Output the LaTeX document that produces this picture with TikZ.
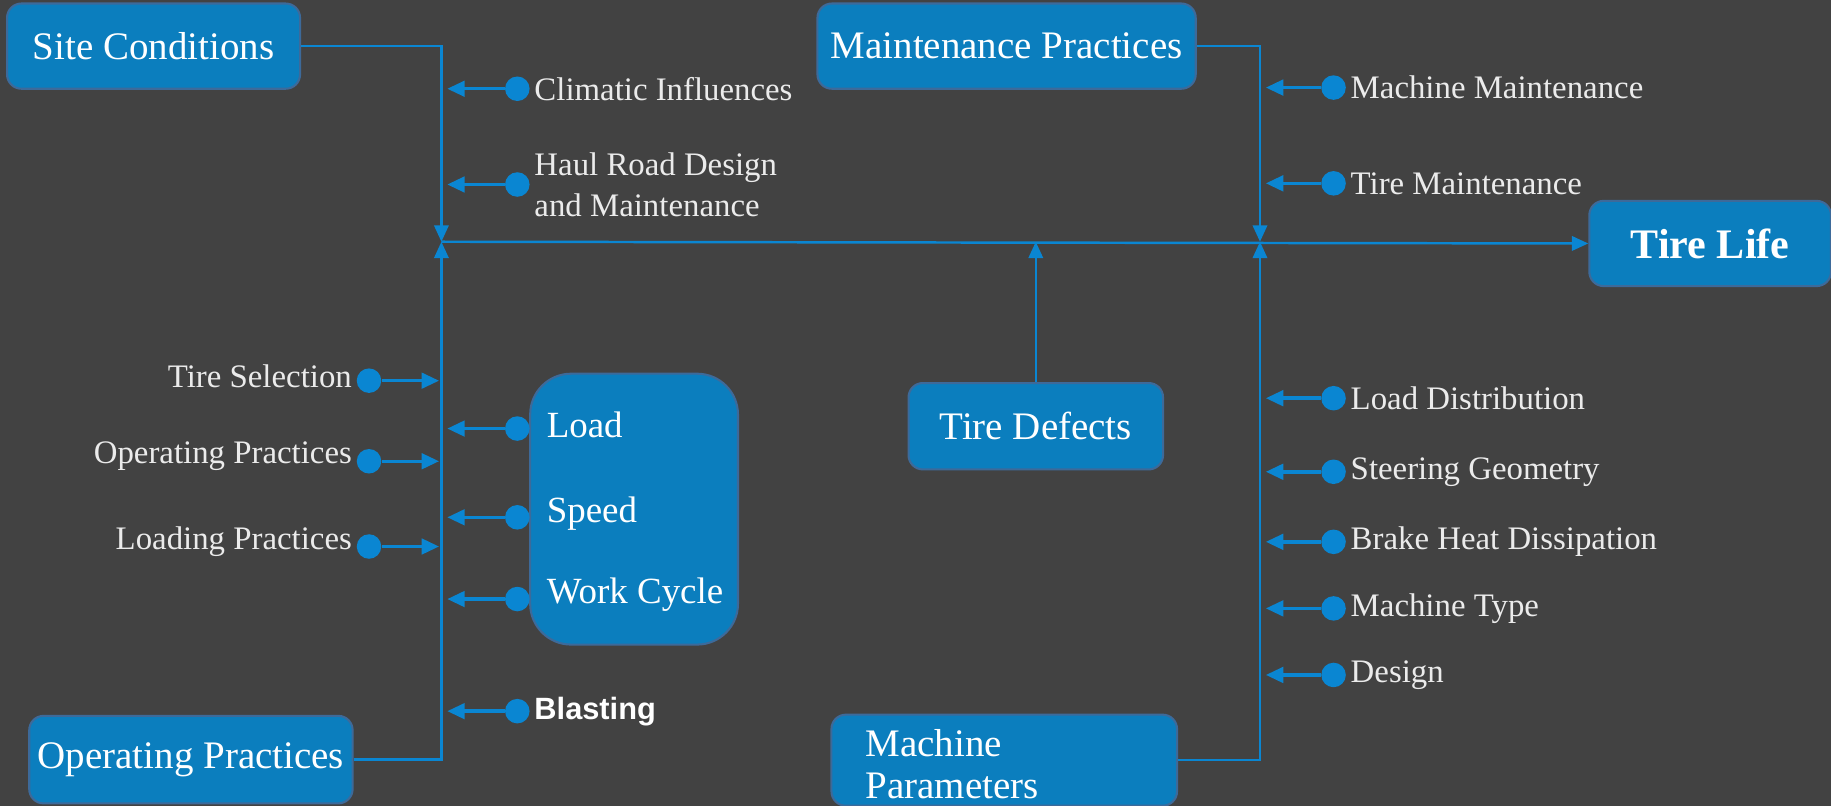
\documentclass[tikz,border=0pt]{standalone}
\usepackage{fontspec}
\setmainfont{Liberation Serif}
\newfontfamily\blastfont{Liberation Sans}
\usetikzlibrary{arrows.meta}
\definecolor{bggray}{HTML}{424242}
\definecolor{boxblue}{HTML}{0B7EBE}
\definecolor{boxedge}{HTML}{3D6A9A}
\definecolor{linkblue}{HTML}{0A86D2}
\begin{document}
\begin{tikzpicture}[x=0.02cm,y=-0.02cm,
  box/.style={draw=boxedge,line width=1pt,fill=boxblue,rounded corners=7pt,text=white,font=\fontsize{19}{22}\selectfont,inner sep=0pt},
  side/.style={text=white!92!black,font=\fontsize{16}{20}\selectfont,inner sep=2pt},
  dot/.style={circle,fill=linkblue,minimum size=0.42cm,inner sep=0pt},
  link/.style={draw=linkblue,line width=1.2pt,-{Triangle[length=8pt,width=7pt]}},
  feed/.style={draw=linkblue,line width=1.7pt,-{Triangle[length=8.5pt,width=7.5pt]}}]
\fill[bggray] (0,0) rectangle (1568,690);
\useasboundingbox (0,0) rectangle (1568,690);
\node[box,minimum width=5.02cm,minimum height=1.46cm] (site) at (131.5,39.5) {Site Conditions};
\node[box,minimum width=6.48cm,minimum height=1.46cm] (maint) at (862,39.5) {Maintenance Practices};
\node[box,minimum width=4.14cm,minimum height=1.46cm,font=\fontsize{20.5}{24}\selectfont\bfseries] (life) at (1464.5,208.5) {Tire Life};
\node[box,minimum width=4.36cm,minimum height=1.48cm] (defects) at (887,365) {Tire Defects};
\node[box,minimum width=5.54cm,minimum height=1.5cm] (oper) at (163.5,650.5) {Operating Practices};
\node[box,minimum width=5.92cm,minimum height=1.56cm] (machine) at (860,651) {};
\node[text=white,font=\fontsize{19}{20.5}\selectfont,align=left,anchor=north west,inner sep=0pt] (machine-t) at (741,624) {Machine\\Parameters};
\node[box,rounded corners=0.7cm,minimum width=3.56cm,minimum height=4.64cm] (cycle) at (543,436) {};
\coordinate (jleft) at (378,207);
\coordinate (jmid) at (887,207);
\coordinate (jright) at (1079,207);
\draw[link] (site.east) -| (jleft);
\draw[link] (oper.east) -| (jleft);
\draw[link] (maint.east) -| (jright);
\draw[link] (machine.east) -| (jright);
\draw[link] (defects.north) -- (jmid);
\draw[link] (jleft) -- (life.west);
\node[dot] (climatic) at (443,76) {};
\node[dot] (haul) at (443,158) {};
\node[dot] (load) at (443,367) {};
\node[dot] (speed) at (443,443) {};
\node[dot] (work) at (443,513) {};
\node[dot] (blast) at (443,609) {};
\node[dot] (tiresel) at (316,326) {};
\node[dot] (operp) at (316,395) {};
\node[dot] (loadp) at (316,468) {};
\node[dot] (machm) at (1142,75) {};
\node[dot] (tirem) at (1142,157) {};
\node[dot] (loaddist) at (1142,341) {};
\node[dot] (steer) at (1142,404) {};
\node[dot] (brake) at (1142,464) {};
\node[dot] (mtype) at (1142,521) {};
\node[dot] (design) at (1142,578) {};
\coordinate (climatic-end) at (383,76);
\coordinate (haul-end) at (383,158);
\coordinate (load-end) at (383,367);
\coordinate (speed-end) at (383,443);
\coordinate (work-end) at (383,513);
\coordinate (blast-end) at (383,609);
\coordinate (tiresel-end) at (376,326);
\coordinate (operp-end) at (376,395);
\coordinate (loadp-end) at (376,468);
\coordinate (machm-end) at (1084,75);
\coordinate (tirem-end) at (1084,157);
\coordinate (loaddist-end) at (1084,341);
\coordinate (steer-end) at (1084,404);
\coordinate (brake-end) at (1084,464);
\coordinate (mtype-end) at (1084,521);
\coordinate (design-end) at (1084,578);
\draw[feed] (climatic) -- (climatic-end);
\draw[feed] (haul) -- (haul-end);
\draw[feed] (load) -- (load-end);
\draw[feed] (speed) -- (speed-end);
\draw[feed] (work) -- (work-end);
\draw[feed] (blast) -- (blast-end);
\draw[feed] (tiresel) -- (tiresel-end);
\draw[feed] (operp) -- (operp-end);
\draw[feed] (loadp) -- (loadp-end);
\draw[feed] (machm) -- (machm-end);
\draw[feed] (tirem) -- (tirem-end);
\draw[feed] (loaddist) -- (loaddist-end);
\draw[feed] (steer) -- (steer-end);
\draw[feed] (brake) -- (brake-end);
\draw[feed] (mtype) -- (mtype-end);
\draw[feed] (design) -- (design-end);
\node[side,anchor=west] (climatic-t) at (climatic.east) {Climatic Influences};
\node[side,anchor=west,align=left] (haul-t) at (haul.east) {Haul Road Design\\and Maintenance};
\node[side,anchor=west,text=white,font=\fontsize{18}{22}\selectfont,inner sep=8pt] (load-t) at ([yshift=0.07cm]load.east) {Load};
\node[side,anchor=west,text=white,font=\fontsize{18}{22}\selectfont,inner sep=8pt] (speed-t) at ([yshift=0.07cm]speed.east) {Speed};
\node[side,anchor=west,text=white,font=\fontsize{18}{22}\selectfont,inner sep=8pt] (work-t) at ([yshift=0.07cm]work.east) {Work Cycle};
\node[side,anchor=west,text=white,font=\blastfont\fontsize{15}{18}\selectfont\bfseries] (blast-t) at (blast.east) {Blasting};
\node[side,anchor=east] (tiresel-t) at ([yshift=0.08cm]tiresel.west) {Tire Selection};
\node[side,anchor=east] (operp-t) at ([yshift=0.08cm]operp.west) {Operating Practices};
\node[side,anchor=east] (loadp-t) at ([yshift=0.08cm]loadp.west) {Loading Practices};
\node[side,anchor=west] (machm-t) at (machm.east) {Machine Maintenance};
\node[side,anchor=west] (tirem-t) at (tirem.east) {Tire Maintenance};
\node[side,anchor=west] (loaddist-t) at (loaddist.east) {Load Distribution};
\node[side,anchor=west] (steer-t) at (steer.east) {Steering Geometry};
\node[side,anchor=west] (brake-t) at (brake.east) {Brake Heat Dissipation};
\node[side,anchor=west] (mtype-t) at (mtype.east) {Machine Type};
\node[side,anchor=west] (design-t) at (design.east) {Design};
\end{tikzpicture}
\end{document}
